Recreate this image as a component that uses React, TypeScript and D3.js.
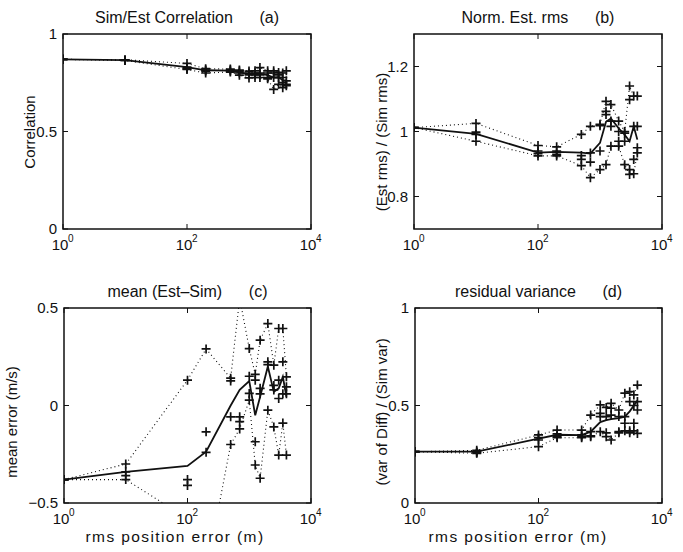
import React from "react";
import * as d3 from "d3";

// rms position error (m) of each simulation set
const rmsErr = [1, 10, 100, 200, 500, 700, 1000, 1250, 1500, 2000, 2500, 3000, 3500, 4000];
const xTicks = [1, 100, 10000];

// (a) Sim/Est correlation
const corrMean = [0.87, 0.866, 0.83, 0.814, 0.812, 0.803, 0.795, 0.796, 0.797, 0.789, 0.776, 0.778, 0.763, 0.762];
const corrRuns = [
  [0.87, 0.87, 0.87, 0.87],
  [0.868, 0.866, 0.865, 0.864],
  [0.849, 0.83, 0.822, 0.818],
  [0.822, 0.815, 0.81, 0.8],
  [0.82, 0.815, 0.81, 0.805],
  [0.815, 0.81, 0.8, 0.789],
  [0.81, 0.8, 0.79, 0.775],
  [0.811, 0.8, 0.79, 0.777],
  [0.828, 0.8, 0.79, 0.777],
  [0.811, 0.8, 0.777, 0.77],
  [0.811, 0.8, 0.777, 0.716],
  [0.803, 0.79, 0.777, 0.742],
  [0.8, 0.777, 0.751, 0.725],
  [0.811, 0.76, 0.742, 0.735],
];
const corrTicks = [0, 0.5, 1];

// (b) normalised estimated rms
const ratioMean = [1.012, 0.993, 0.935, 0.937, 0.935, 0.932, 0.965, 1.03, 1.04, 1.01, 0.99, 0.97, 1.016, 0.975];
const ratioRuns = [
  [1.012, 1.012, 1.012, 1.012],
  [1.025, 0.998, 0.991, 0.97],
  [0.957, 0.94, 0.932, 0.925],
  [0.953, 0.94, 0.93, 0.925],
  [0.991, 0.926, 0.914, 0.895],
  [1.016, 0.934, 0.906, 0.858],
  [1.022, 1.018, 0.94, 0.883],
  [1.093, 1.062, 1.052, 0.898],
  [1.083, 1.032, 1.016, 0.955],
  [1.032, 1.0, 0.97, 0.955],
  [1.0, 0.995, 0.97, 0.898],
  [1.14, 1.098, 0.883, 0.868],
  [1.109, 1.016, 0.914, 0.87],
  [1.109, 1.016, 0.95, 0.934],
];
const ratioTicks = [0.8, 1, 1.2];

// (c) mean error Est-Sim
const biasMean = [-0.38, -0.34, -0.31, -0.237, 0.0, 0.08, 0.125, -0.05, 0.045, 0.2, 0.07, 0.088, 0.147, 0.045];
const biasRuns = [
  [-0.38, -0.38, -0.38, -0.38],
  [-0.3, -0.34, -0.36, -0.38],
  [0.13, -0.38, -0.41, -0.58],
  [0.29, -0.135, -0.24, -0.86],
  [0.14, 0.126, -0.058, -0.2],
  [0.55, -0.058, -0.083, -0.12],
  [0.292, 0.15, 0.062, 0.028],
  [0.16, 0.13, -0.186, -0.305],
  [0.335, 0.088, 0.06, -0.373],
  [0.42, 0.224, 0.21, -0.024],
  [0.207, 0.103, 0.08, -0.11],
  [0.395, 0.13, 0.036, -0.254],
  [0.395, 0.224, 0.06, -0.09],
  [0.147, 0.096, 0.06, -0.254],
];
const biasTicks = [-0.5, 0, 0.5];

// (d) residual variance
const varMean = [0.263, 0.263, 0.33, 0.35, 0.348, 0.366, 0.415, 0.425, 0.43, 0.435, 0.443, 0.47, 0.5, 0.525];
const varRuns = [
  [0.263, 0.263, 0.263, 0.263],
  [0.27, 0.263, 0.258, 0.255],
  [0.349, 0.335, 0.323, 0.289],
  [0.374, 0.355, 0.34, 0.335],
  [0.374, 0.349, 0.34, 0.335],
  [0.451, 0.366, 0.345, 0.34],
  [0.503, 0.46, 0.443, 0.366],
  [0.49, 0.443, 0.36, 0.34],
  [0.511, 0.486, 0.451, 0.323],
  [0.477, 0.443, 0.366, 0.36],
  [0.563, 0.443, 0.409, 0.37],
  [0.571, 0.52, 0.37, 0.36],
  [0.554, 0.5, 0.409, 0.37],
  [0.605, 0.52, 0.477, 0.357],
];
const varTicks = [0, 0.5, 1];

const FONT = "'Liberation Sans', Arial, Helvetica, sans-serif";
const FS = 15;
const INK = "#111";

type Box = { x0: number; x1: number; y0: number; y1: number };

function Panel(props: {
  id: string;
  box: Box;
  yDomain: [number, number];
  yTicks: number[];
  mean: number[];
  runs: number[][];
  title: string;
  ylabel: string;
  ylabelX: number;
  ylabelY: number;
  xlabel?: string;
  xlabelX?: number;
}) {
  const { id, box, yDomain, yTicks, mean, runs } = props;
  const x = d3.scaleLog().domain([1, 10000]).range([box.x0, box.x1]);
  const y = d3.scaleLinear().domain(yDomain).range([box.y1, box.y0]);
  const line = d3
    .line<[number, number]>()
    .x((d) => x(d[0]))
    .y((d) => y(d[1]));

  const meanPts = rmsErr.map((e, i) => [e, mean[i]] as [number, number]);
  // dotted envelope = highest / lowest run at each error level
  const upper = rmsErr.map((e, i) => [e, d3.max(runs[i]) as number] as [number, number]);
  const lower = rmsErr.map((e, i) => [e, d3.min(runs[i]) as number] as [number, number]);
  const marks = rmsErr.flatMap((e, i) => runs[i].map((v) => [e, v] as [number, number]));
  const fmt = d3.format("~g");
  const tl = 5;

  return (
    <g>
      <defs>
        <clipPath id={id}>
          <rect x={box.x0} y={box.y0} width={box.x1 - box.x0} height={box.y1 - box.y0} />
        </clipPath>
      </defs>
      <g clipPath={`url(#${id})`}>
        <path d={line(upper) || ""} fill="none" stroke={INK} strokeWidth={1.1} strokeDasharray="1,3" />
        <path d={line(lower) || ""} fill="none" stroke={INK} strokeWidth={1.1} strokeDasharray="1,3" />
        <path d={line(meanPts) || ""} fill="none" stroke={INK} strokeWidth={1.8} />
        {marks.map((d, i) => (
          <path
            key={i}
            d={`M${x(d[0]) - 4.5},${y(d[1])}h9M${x(d[0])},${y(d[1]) - 4.5}v9`}
            stroke={INK}
            strokeWidth={1.7}
          />
        ))}
      </g>
      <rect
        x={box.x0}
        y={box.y0}
        width={box.x1 - box.x0}
        height={box.y1 - box.y0}
        fill="none"
        stroke={INK}
        strokeWidth={1.5}
      />
      {xTicks.map((t) => (
        <g key={"x" + t}>
          <line x1={x(t)} x2={x(t)} y1={box.y1} y2={box.y1 - tl} stroke={INK} />
          <line x1={x(t)} x2={x(t)} y1={box.y0} y2={box.y0 + tl} stroke={INK} />
          <text x={x(t) - 3} y={box.y1 + 21} textAnchor="middle" fontSize={FS} fill={INK}>
            10
          </text>
          <text x={x(t) + 5} y={box.y1 + 13} textAnchor="start" fontSize={10} fill={INK}>
            {Math.round(Math.log10(t))}
          </text>
        </g>
      ))}
      {yTicks.map((t) => (
        <g key={"y" + t}>
          <line x1={box.x0} x2={box.x0 + tl} y1={y(t)} y2={y(t)} stroke={INK} />
          <line x1={box.x1} x2={box.x1 - tl} y1={y(t)} y2={y(t)} stroke={INK} />
          <text x={box.x0 - 6} y={y(t)} dy="0.36em" textAnchor="end" fontSize={FS} fill={INK}>
            {fmt(t)}
          </text>
        </g>
      ))}
      <text
        x={(box.x0 + box.x1) / 2}
        y={box.y0 - 11}
        textAnchor="middle"
        fontSize={16}
        fill={INK}
        style={{ whiteSpace: "pre" }}
      >
        {props.title}
      </text>
      <text
        transform={`translate(${props.ylabelX},${props.ylabelY}) rotate(-90)`}
        textAnchor="middle"
        fontSize={FS}
        fill={INK}
      >
        {props.ylabel}
      </text>
      {props.xlabel && (
        <text
          x={props.xlabelX}
          y={box.y1 + 39}
          textAnchor="middle"
          fontSize={15.5}
          letterSpacing={1.4}
          fill={INK}
        >
          {props.xlabel}
        </text>
      )}
    </g>
  );
}

export default function App() {
  return (
    <svg
      width={683}
      height={552}
      style={{ position: "absolute", left: 0, top: 0, background: "#fff", fontFamily: FONT }}
    >
      <rect width={683} height={552} fill="#fff" />
      <Panel
        id="pa"
        box={{ x0: 63, x1: 311, y0: 34, y1: 229 }}
        yDomain={[0, 1]}
        yTicks={corrTicks}
        mean={corrMean}
        runs={corrRuns}
        title={"Sim/Est Correlation      (a)"}
        ylabel="Correlation"
        ylabelX={35}
        ylabelY={132}
      />
      <Panel
        id="pb"
        box={{ x0: 414, x1: 662, y0: 34, y1: 229 }}
        yDomain={[0.7, 1.3]}
        yTicks={ratioTicks}
        mean={ratioMean}
        runs={ratioRuns}
        title={"Norm. Est. rms      (b)"}
        ylabel="(Est rms) / (Sim rms)"
        ylabelX={387}
        ylabelY={142}
      />
      <Panel
        id="pc"
        box={{ x0: 64, x1: 311, y0: 308, y1: 503 }}
        yDomain={[-0.5, 0.5]}
        yTicks={biasTicks}
        mean={biasMean}
        runs={biasRuns}
        title={"mean (Est\u2013Sim)      (c)"}
        ylabel="mean error (m/s)"
        ylabelX={17}
        ylabelY={422}
        xlabel="rms position error (m)"
        xlabelX={175}
      />
      <Panel
        id="pd"
        box={{ x0: 415, x1: 662, y0: 308, y1: 503 }}
        yDomain={[0, 1]}
        yTicks={varTicks}
        mean={varMean}
        runs={varRuns}
        title={"residual variance      (d)"}
        ylabel="(var of Diff) / (Sim var)"
        ylabelX={387}
        ylabelY={412}
        xlabel="rms position error (m)"
        xlabelX={518}
      />
    </svg>
  );
}
